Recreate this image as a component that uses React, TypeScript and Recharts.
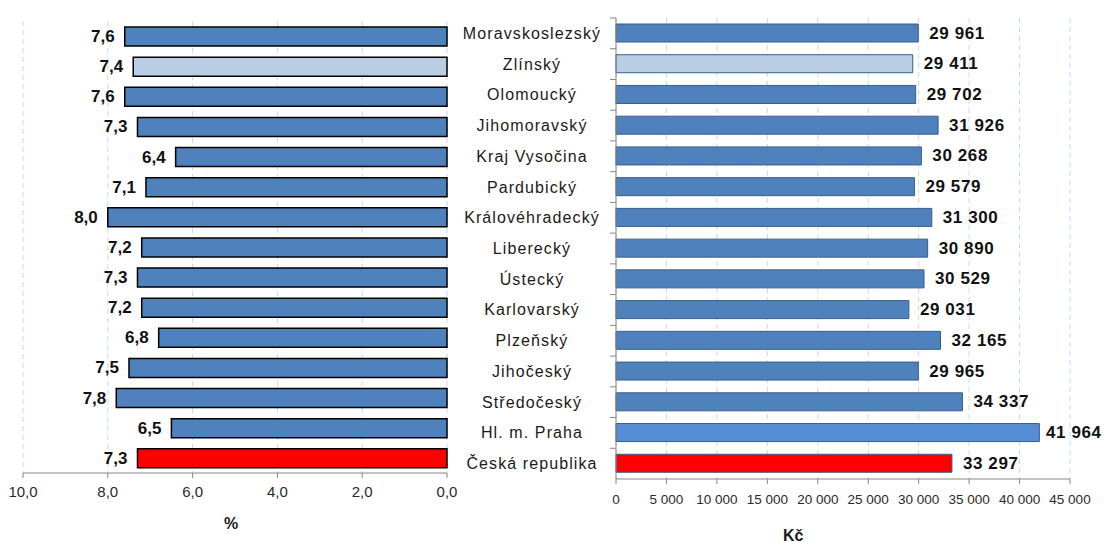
import React from 'react';
import { BarChart, Bar, XAxis, YAxis, CartesianGrid, Cell, LabelList } from 'recharts';

const regions = [
  'Moravskoslezský', 'Zlínský', 'Olomoucký', 'Jihomoravský', 'Kraj Vysočina',
  'Pardubický', 'Královéhradecký', 'Liberecký', 'Ústecký', 'Karlovarský',
  'Plzeňský', 'Jihočeský', 'Středočeský', 'Hl. m. Praha', 'Česká republika',
];
const percentValues = [7.6, 7.4, 7.6, 7.3, 6.4, 7.1, 8.0, 7.2, 7.3, 7.2, 6.8, 7.5, 7.8, 6.5, 7.3];
const wageValues = [29961, 29411, 29702, 31926, 30268, 29579, 31300, 30890, 30529, 29031, 32165, 29965, 34337, 41964, 33297];
const percentTicks = [0, 2, 4, 6, 8, 10];
const wageTicks = [0, 5000, 10000, 15000, 20000, 25000, 30000, 35000, 40000, 45000];

const data = regions.map((name, i) => ({ name, pct: percentValues[i], wage: wageValues[i] }));

const FONT = '"Liberation Sans", Arial, sans-serif';
const BLUE = '#4F81BD';
const LIGHT = '#B9CDE5';
const RED = '#FF0000';
const GRID = '#C6D9F1';
const AXIS = '#868686';
const RIGHT_W = 657;

const fillFor = (name: string, praha?: string) => {
  if (name === 'Zlínský') return LIGHT;
  if (name === 'Česká republika') return RED;
  if (praha && name === 'Hl. m. Praha') return praha;
  return BLUE;
};

const fmtThousands = (v: number) => String(v).replace(/\B(?=(\d{3})+(?!\d))/g, ' ');

const LeftLabel = (props: any) => {
  const { x, y, width, height, value } = props;
  const left = Math.min(x, x + width);
  return (
    <text x={left - 10} y={y + height / 2} textAnchor="end" dominantBaseline="central"
      fontFamily={FONT} fontWeight="bold" fontSize={17} fill="#111">
      {Number(value).toFixed(1).replace('.', ',')}
    </text>
  );
};

const RightLabel = (props: any) => {
  const { x, y, width, height, value } = props;
  const right = Math.max(x, x + width);
  // keep the label inside the picture (Praha bar sits close to the edge)
  const tx = Math.min(right + 11, RIGHT_W - 58);
  return (
    <text x={tx} y={y + height / 2} textAnchor="start" dominantBaseline="central"
      fontFamily={FONT} fontWeight="bold" fontSize={17} fill="#111" letterSpacing={0.6}>
      {fmtThousands(value)}
    </text>
  );
};

const RegionTick = (props: any) => {
  const { y, payload } = props;
  const half = payload.offset ?? 461 / 30;
  return (
    <g>
      <line x1={163} x2={169} y1={y - half} y2={y - half} stroke={AXIS} />
      <text x={85} y={y} textAnchor="middle" dominantBaseline="central"
        fontFamily={FONT} fontSize={16} fill="#1a1a1a" letterSpacing={1.1}>
        {payload.value}
      </text>
    </g>
  );
};

export default function App() {
  return (
    <div style={{ position: 'absolute', left: 0, top: 0, width: 1104, height: 542, background: '#fff', fontFamily: FONT }}>
      <div style={{ position: 'absolute', left: 0, top: 0 }}>
        <BarChart width={470} height={542} data={data} layout="vertical"
          margin={{ top: 21, right: 23, left: 23, bottom: 39 }} barSize={19}>
          <CartesianGrid horizontal={false} stroke={GRID} strokeDasharray="5 4" />
          <XAxis type="number" domain={[0, 10]} ticks={percentTicks} reversed height={30}
            tickFormatter={(v: number) => v.toFixed(1).replace('.', ',')}
            tick={{ fill: '#2a2a2a', fontSize: 15, fontFamily: FONT }}
            stroke={AXIS} tickSize={5} tickMargin={8} />
          <YAxis type="category" dataKey="name" hide />
          <Bar dataKey="pct" stroke="#000" strokeWidth={1.5} isAnimationActive={false}>
            {data.map((d, i) => <Cell key={i} fill={fillFor(d.name)} />)}
            <LabelList dataKey="pct" content={LeftLabel} />
          </Bar>
        </BarChart>
      </div>
      <div style={{ position: 'absolute', left: 447, top: 0 }}>
        <BarChart width={RIGHT_W} height={542} data={data} layout="vertical"
          margin={{ top: 18, right: 34, left: 0, bottom: 33 }} barSize={18}>
          <CartesianGrid horizontal={false} stroke={GRID} strokeDasharray="5 4" />
          <XAxis type="number" domain={[0, 45000]} ticks={wageTicks} height={30}
            tickFormatter={fmtThousands}
            tick={{ fill: '#2a2a2a', fontSize: 13.5, fontFamily: FONT }}
            stroke={AXIS} tickSize={5} tickMargin={10} />
          <YAxis type="category" dataKey="name" width={169} stroke={AXIS}
            tickLine={false} tick={RegionTick} interval={0} />
          <Bar dataKey="wage" stroke="#385D8A" strokeWidth={1} isAnimationActive={false}>
            {data.map((d, i) => <Cell key={i} fill={fillFor(d.name, '#558ED5')} />)}
            <LabelList dataKey="wage" content={RightLabel} />
          </Bar>
        </BarChart>
      </div>
      <div style={{ position: 'absolute', left: 224, top: 515, fontWeight: 'bold', fontSize: 16, color: '#1a1a1a' }}>%</div>
      <div style={{ position: 'absolute', left: 783, top: 527, fontWeight: 'bold', fontSize: 16, color: '#1a1a1a' }}>Kč</div>
    </div>
  );
}
